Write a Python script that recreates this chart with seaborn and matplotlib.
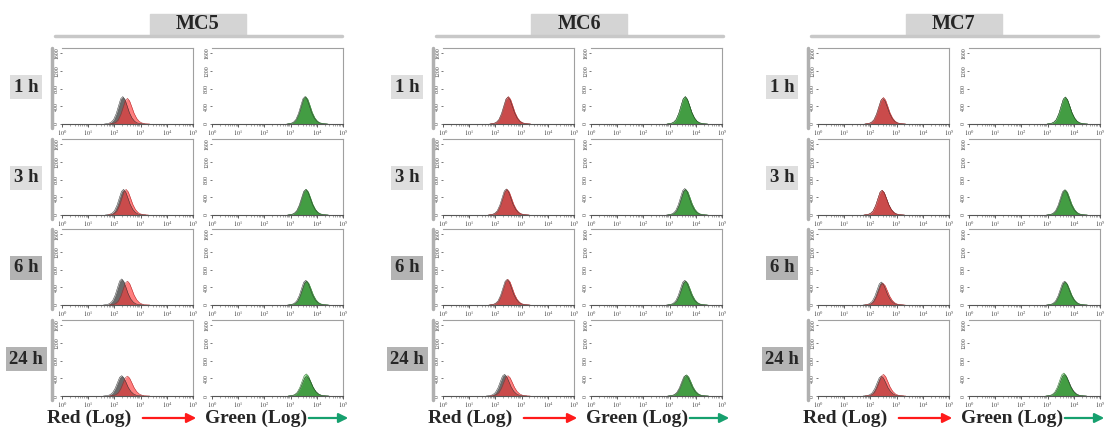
import matplotlib
matplotlib.use("Agg")
import matplotlib.pyplot as plt
import seaborn as sns
from matplotlib.patches import Rectangle, FancyArrowPatch
from matplotlib.lines import Line2D
from matplotlib.ticker import FixedLocator, FixedFormatter, LogLocator, NullFormatter

# === Dados ===
lines_mc = ["MC5", "MC6", "MC7"]
hours = ["1 h", "3 h", "6 h", "24 h"]
x_ticks = [1, 10, 100, 1000, 10000, 100000]
x_ticklabels = ["$10^0$", "$10^1$", "$10^2$", "$10^3$", "$10^4$", "$10^5$"]
y_ticks = [0, 400, 800, 1200, 1600]
y_ticklabels = ["0", "400", "800", "1200", "1600"]

# histogram profile (offset from peak in decades, relative count)
profile_offset = [-0.70, -0.55, -0.45, -0.35, -0.25, -0.15, -0.08, 0.0,
                  0.08, 0.16, 0.25, 0.35, 0.45, 0.55, 0.70, 0.85]
profile_count = [0.00, 0.02, 0.06, 0.16, 0.38, 0.70, 0.92, 1.00,
                 0.90, 0.68, 0.42, 0.22, 0.10, 0.04, 0.01, 0.00]

# peak position (log10) and peak count, per cell line (rows) x time (cols)
red_ctrl_peak = [[2.32, 2.35, 2.28, 2.28], [2.48, 2.42, 2.45, 2.35], [2.48, 2.45, 2.42, 2.42]]
red_ctrl_height = [[620, 580, 590, 460], [610, 590, 580, 490], [580, 560, 520, 450]]
red_smpl_peak = [[2.50, 2.45, 2.50, 2.50], [2.50, 2.45, 2.48, 2.48], [2.50, 2.45, 2.48, 2.50]]
red_smpl_height = [[580, 580, 540, 450], [620, 580, 580, 460], [600, 560, 490, 490]]

green_ctrl_peak = [[3.55, 3.58, 3.58, 3.62], [3.60, 3.58, 3.58, 3.62], [3.68, 3.65, 3.65, 3.65]]
green_ctrl_height = [[620, 580, 560, 440], [620, 600, 560, 470], [610, 570, 540, 480]]
green_smpl_peak = [[3.58, 3.60, 3.62, 3.60], [3.60, 3.62, 3.62, 3.65], [3.68, 3.68, 3.68, 3.62]]
green_smpl_height = [[620, 580, 540, 500], [620, 580, 540, 480], [610, 570, 520, 520]]

# === Figura ===
W, H = 1107, 428
sns.set_style("white")
plt.rcParams["font.family"] = ["Liberation Serif", "DejaVu Serif"]
plt.rcParams["mathtext.fontset"] = "stix"
fig = plt.figure(figsize=(W / 100, H / 100), dpi=100)


def rect(l, t, w, h):
    return [l / W, 1 - (t + h) / H, w / W, h / H]


def fx(x):
    return x / W


def fy(y):
    return 1 - y / H


def draw_hist(ax, peak, height, color, alpha, edge):
    x = [10 ** (peak + o) for o in profile_offset]
    y = [height * c for c in profile_count]
    ax.fill_between(x, y, color=color, alpha=alpha, lw=0)
    sns.lineplot(x=x, y=y, ax=ax, color=edge, lw=0.35, sort=False)


def style_ax(ax):
    ax.set_xscale("log")
    ax.set_xlim(1, 100000)
    ax.set_ylim(0, 1720)
    ax.xaxis.set_major_locator(FixedLocator(x_ticks))
    ax.xaxis.set_major_formatter(FixedFormatter(x_ticklabels))
    ax.xaxis.set_minor_locator(LogLocator(base=10, subs=range(2, 10)))
    ax.xaxis.set_minor_formatter(NullFormatter())
    ax.set_yticks(y_ticks)
    ax.set_yticklabels(y_ticklabels)
    ax.tick_params(axis="x", which="major", length=2.5, width=0.6, labelsize=4.5, pad=0.5,
                   colors="#444444", bottom=True)
    ax.tick_params(axis="x", which="minor", length=1.5, width=0.4, bottom=True, colors="#666666")
    ax.tick_params(axis="y", length=1.5, width=0.5, labelsize=4.2, pad=0.5, labelrotation=90,
                   colors="#444444", left=True)
    for lab in ax.get_yticklabels():
        lab.set_va("center")
    ax.spines["left"].set_visible(False)
    ax.spines["top"].set_color("#a0a0a0")
    ax.spines["right"].set_color("#a0a0a0")
    ax.spines["bottom"].set_color("#555555")
    for s in ["top", "right", "bottom"]:
        ax.spines[s].set_linewidth(0.8)
    ax.set_xlabel("")
    ax.set_ylabel("")
    ax.set_facecolor("white")


group_left = [62, 443, 818]
green_offset = [150, 148, 151]
panel_w = 131
row_top = [48, 139, 229, 320]
panel_h = 76
label_colors = ["#dedede", "#dedede", "#b3b3b3", "#b3b3b3"]

for g, mc in enumerate(lines_mc):
    left = group_left[g]
    # header
    fig.patches.append(Rectangle((fx(left + 88), fy(35)), 96 / W, 21 / H,
                                 transform=fig.transFigure, color="#d4d4d4", zorder=0))
    fig.lines.append(Line2D([fx(left - 7), fx(left + 280)], [fy(36), fy(36)],
                            transform=fig.transFigure, color="#c8c8c8", lw=2.5))
    fig.text(fx(left + 136), fy(24), mc, ha="center", va="center",
             fontsize=14.5, fontweight="bold")

    for r, hr in enumerate(hours):
        top = row_top[r]
        # left bar and time label
        fig.lines.append(Line2D([fx(left - 10), fx(left - 10)], [fy(top), fy(top + panel_h + 4)],
                                transform=fig.transFigure, color="#b0b0b0", lw=2.5))
        fig.text(fx(left - 36), fy(top + panel_h / 2 + 1), hr, ha="center", va="center",
                 fontsize=13.5, fontweight="bold",
                 bbox=dict(facecolor=label_colors[r], edgecolor="none", pad=2.5))

        ax_r = fig.add_axes(rect(left, top, panel_w, panel_h))
        style_ax(ax_r)
        draw_hist(ax_r, red_ctrl_peak[g][r], red_ctrl_height[g][r], "#5a5a5a", 0.9, "#333333")
        draw_hist(ax_r, red_smpl_peak[g][r], red_smpl_height[g][r], "#ff3b3b", 0.65, "#b02020")

        ax_g = fig.add_axes(rect(left + green_offset[g], top, panel_w, panel_h))
        style_ax(ax_g)
        draw_hist(ax_g, green_ctrl_peak[g][r], green_ctrl_height[g][r], "#5a5a5a", 0.9, "#333333")
        draw_hist(ax_g, green_smpl_peak[g][r], green_smpl_height[g][r], "#35b135", 0.72, "#1f6f1f")

    # bottom axis captions
    fig.text(fx(left - 15), fy(418), "Red (Log)", ha="left", va="center",
             fontsize=14, fontweight="bold")
    fig.patches.append(FancyArrowPatch((fx(left + 78), fy(418)), (fx(left + 137), fy(418)),
                                       transform=fig.transFigure, arrowstyle="-|>",
                                       mutation_scale=14, color="#ff1a1a", lw=1.6))
    fig.text(fx(left + 143), fy(418), "Green (Log)", ha="left", va="center",
             fontsize=14, fontweight="bold")
    fig.patches.append(FancyArrowPatch((fx(left + 244), fy(418)), (fx(left + 289), fy(418)),
                                       transform=fig.transFigure, arrowstyle="-|>",
                                       mutation_scale=14, color="#16a06e", lw=1.6))

fig.savefig("out.png", dpi=100)
